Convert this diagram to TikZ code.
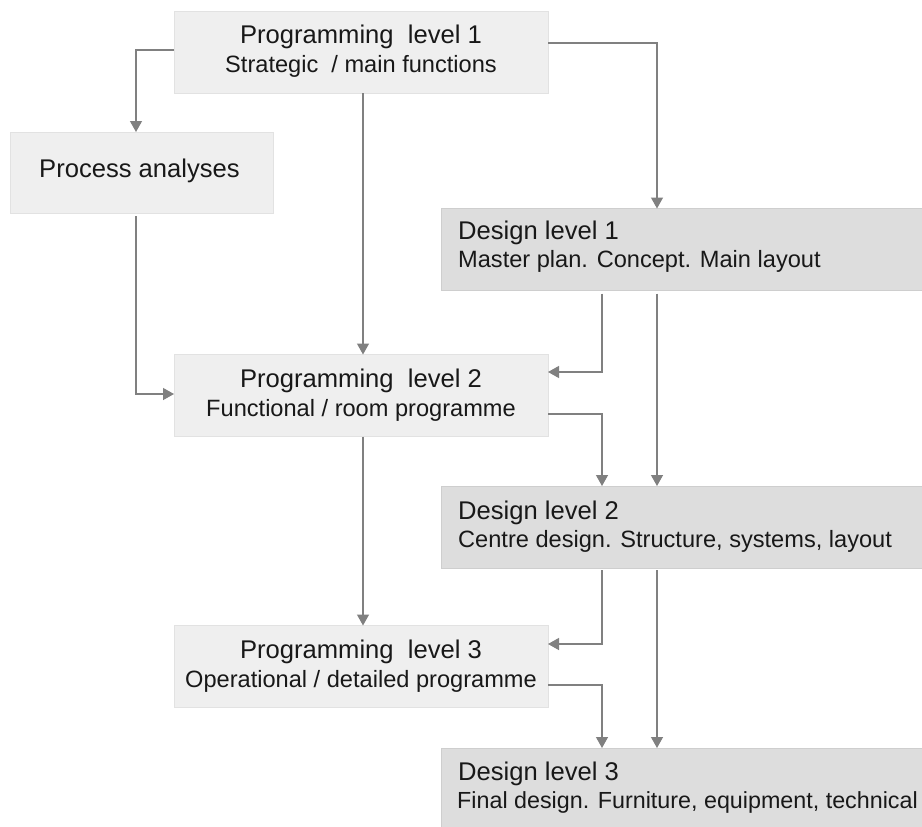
\documentclass[tikz,border=0pt]{standalone}
\usepackage{fontspec}
\setmainfont{Liberation Sans}
\usetikzlibrary{arrows.meta}

\definecolor{progfill}{RGB}{239,239,239}
\definecolor{progline}{RGB}{226,226,226}
\definecolor{desfill}{RGB}{221,221,221}
\definecolor{desline}{RGB}{206,206,206}
\definecolor{linkgray}{RGB}{128,128,128}
\definecolor{ink}{RGB}{24,24,24}

\tikzset{
  box/.style={rectangle, inner sep=0pt, outer sep=0pt, line width=0.8pt},
  progbox/.style={box, fill=progfill, draw=progline, minimum width=374pt, minimum height=82pt},
  desbox/.style={box, fill=desfill, draw=desline, minimum width=519pt, minimum height=82pt},
  headtxt/.style={inner sep=0pt, text=ink, font=\fontsize{25.6}{30}\selectfont},
  subtxt/.style={inner sep=0pt, text=ink, font=\fontsize{23.6}{28}\selectfont},
  link/.style={draw=linkgray, line width=1.3pt,
    -{Triangle[width=12pt,length=11pt]}},
}

\begin{document}
\begin{tikzpicture}[x=1pt, y=-1pt]
  \clip (0,0) rectangle (922,827);
  \fill[white] (0,0) rectangle (922,827);

  % programming column
  \node[progbox] (P1) at (361,52) {};
  \node[box, fill=progfill, draw=progline, minimum width=263pt, minimum height=81pt] (PA) at (141.5,172.5) {};
  \node[progbox] (P2) at (361,395.5) {};
  \node[progbox] (P3) at (361,666.5) {};

  % design column
  \node[desbox] (D1) at (700.5,249.5) {};
  \node[desbox] (D2) at (700.5,527) {};
  \node[desbox] (D3) at (700.5,789) {};

  % box texts
  \node[headtxt, anchor=base] (P1a) at ([yshift=-32pt]P1.north) {Programming\ \ level 1};
  \node[subtxt, anchor=base] (P1b) at ([yshift=-61pt]P1.north) {Strategic\ \ / main functions};
  \node[headtxt, anchor=base] (PAa) at ([xshift=-2pt,yshift=-45pt]PA.north) {Process analyses};
  \node[headtxt, anchor=base] (P2a) at ([yshift=-33pt]P2.north) {Programming\ \ level 2};
  \node[subtxt, anchor=base] (P2b) at ([yshift=-62pt]P2.north) {Functional / room programme};
  \node[headtxt, anchor=base] (P3a) at ([yshift=-33pt]P3.north) {Programming\ \ level 3};
  \node[subtxt, anchor=base] (P3b) at ([yshift=-62pt]P3.north) {Operational / detailed programme};

  \node[headtxt, anchor=base west] (D1a) at ([xshift=17pt,yshift=-31pt]D1.north west) {Design level 1};
  \node[subtxt, anchor=base west] (D1b) at ([xshift=17pt,yshift=-59pt]D1.north west) {Master plan. Concept. Main layout};
  \node[headtxt, anchor=base west] (D2a) at ([xshift=17pt,yshift=-33pt]D2.north west) {Design level 2};
  \node[subtxt, anchor=base west] (D2b) at ([xshift=17pt,yshift=-61pt]D2.north west) {Centre design. Structure, systems, layout};
  \node[headtxt, anchor=base west] (D3a) at ([xshift=17pt,yshift=-32pt]D3.north west) {Design level 3};
  \node[subtxt, anchor=base west, font=\fontsize{23.3}{28}\selectfont] (D3b) at ([xshift=16pt,yshift=-60pt]D3.north west) {Final design. Furniture, equipment, technical};

  % connector columns
  \coordinate (xA) at (136,0);
  \coordinate (xM) at (363,0);
  \coordinate (xB) at (602,0);
  \coordinate (xC) at (657,0);

  % connectors
  \draw[link] ([yshift=2pt]P1.west) -| (xA |- PA.north);
  \draw[link] ([yshift=9pt]P1.east) -| (xC |- D1.north);
  \draw[link] (xM |- P1.south) -- (xM |- P2.north);
  \draw[link] ([yshift=-3pt]xA |- PA.south) |- ([yshift=1.5pt]P2.west);
  \draw[link] ([yshift=-3pt]xB |- D1.south) |- ([yshift=23.5pt]P2.east);
  \draw[link] ([yshift=-3pt]xC |- D1.south) -- (xC |- D2.north);
  \draw[link] ([yshift=-18.5pt]P2.east) -| (xB |- D2.north);
  \draw[link] (xM |- P2.south) -- (xM |- P3.north);
  \draw[link] ([yshift=-2pt]xB |- D2.south) |- ([yshift=22.5pt]P3.east);
  \draw[link] ([yshift=-2pt]xC |- D2.south) -- (xC |- D3.north);
  \draw[link] ([yshift=-18.5pt]P3.east) -| (xB |- D3.north);
\end{tikzpicture}
\end{document}
